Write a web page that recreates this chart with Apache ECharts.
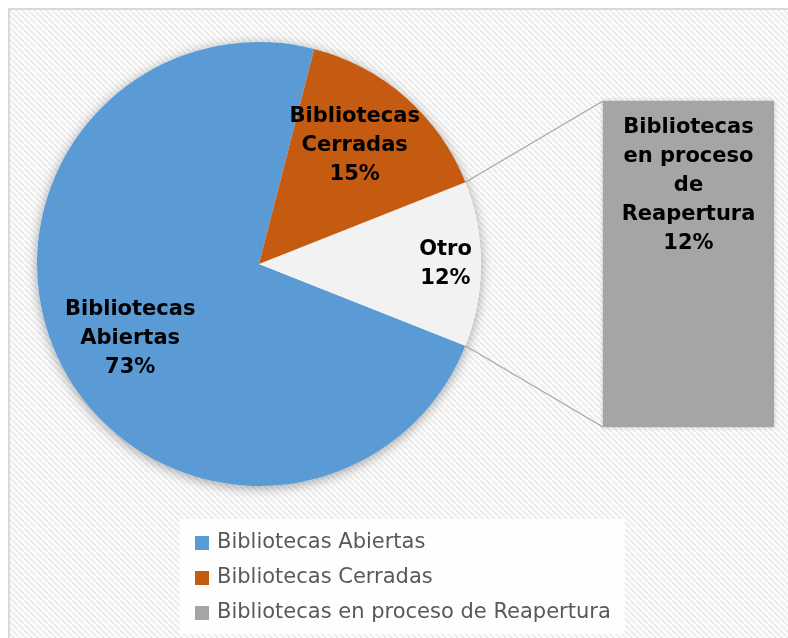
<!DOCTYPE html>
<html>
<head>
<meta charset="utf-8">
<script src="https://cdn.jsdelivr.net/npm/echarts@6/dist/echarts.min.js"></script>
<style>
  html, body { margin: 0; padding: 0; background: #fff; }
  #chart { width: 788px; height: 638px; }
</style>
</head>
<body>
<div id="chart"></div>
<script>
// datos
var pieNames = ['Bibliotecas Abiertas', 'Otro', 'Bibliotecas Cerradas'];
var pieValues = [73, 12, 15];
var pieLabels = ['Bibliotecas\nAbiertas', 'Otro', 'Bibliotecas\nCerradas'];
var barName = 'Bibliotecas en proceso de Reapertura';
var barCategories = ['Reapertura'];
var barValues = [12];
var barLabel = 'Bibliotecas\nen proceso\nde\nReapertura';
var legendNames = ['Bibliotecas Abiertas', 'Bibliotecas Cerradas', 'Bibliotecas en proceso de Reapertura'];

// colores y geometria
var colors = ['#5b9bd5', '#f2f2f2', '#c55a11'];
var barColor = '#a5a5a5';
var cx = 259, cy = 264, R = 222;
var barBox = { left: 603, top: 101, width: 171, height: 326 };
// posicion de etiquetas: fraccion del radio y angulo
var labelSpot = [{ f: 0.67, a: 210 }, { f: 0.84, a: 0 }, { f: 0.685, a: 51 }];

var total = pieValues.reduce(function (a, b) { return a + b; }, 0);
// Otro centrado a la derecha
var startAngle = (pieValues[1] / 2 + pieValues[2]) / total * 360;
var halfOtro = pieValues[1] / 2 / total * 360 * Math.PI / 180;

// fondo rayado
var tile = document.createElement('canvas');
tile.width = 6; tile.height = 6;
var tc = tile.getContext('2d');
tc.fillStyle = '#ffffff';
tc.fillRect(0, 0, 6, 6);
tc.strokeStyle = '#ededed';
tc.lineWidth = 2.5;
[-6, 0, 6].forEach(function (k) {
  tc.beginPath();
  tc.moveTo(k, 0);
  tc.lineTo(k + 6, 6);
  tc.stroke();
});

var p1 = [cx + R * Math.cos(halfOtro), cy - R * Math.sin(halfOtro)];
var p2 = [cx + R * Math.cos(halfOtro), cy + R * Math.sin(halfOtro)];

var chart = echarts.init(document.getElementById('chart'));
chart.setOption({
  animation: false,
  backgroundColor: '#ffffff',
  textStyle: { fontFamily: 'DejaVu Sans' },
  graphic: [
    {
      type: 'rect', z: -10, silent: true,
      shape: { x: 9, y: 9, width: 900, height: 800 },
      style: { fill: { image: tile, repeat: 'repeat' }, stroke: '#d9d9d9', lineWidth: 2 }
    },
    {
      type: 'line', z: 1, silent: true,
      shape: { x1: p1[0], y1: p1[1], x2: barBox.left, y2: barBox.top },
      style: { stroke: '#a6a6a6', lineWidth: 1.2 }
    },
    {
      type: 'line', z: 1, silent: true,
      shape: { x1: p2[0], y1: p2[1], x2: barBox.left, y2: barBox.top + barBox.height },
      style: { stroke: '#a6a6a6', lineWidth: 1.2 }
    }
  ],
  legend: {
    data: legendNames,
    orient: 'vertical',
    left: 180, top: 519,
    padding: [12, 14, 9, 15],
    backgroundColor: 'rgba(255,255,255,0.85)',
    icon: 'rect',
    itemWidth: 14, itemHeight: 14, itemGap: 11,
    selectedMode: false,
    textStyle: { fontSize: 21, lineHeight: 24, color: '#595959', fontFamily: 'DejaVu Sans', padding: [0, 0, 0, 3] }
  },
  grid: { left: barBox.left, top: barBox.top, width: barBox.width, height: barBox.height },
  xAxis: { type: 'category', data: barCategories, show: false },
  yAxis: { type: 'value', min: 0, max: barValues[0], show: false },
  series: [
    {
      // sombra del pastel
      type: 'pie', name: 'sombra', silent: true, z: 0,
      center: [cx, cy], radius: R,
      label: { show: false },
      itemStyle: { color: '#ffffff', shadowBlur: 12, shadowOffsetY: 2, shadowColor: 'rgba(0,0,0,0.35)' },
      data: [{ name: 'sombra', value: 1 }]
    },
    {
      type: 'pie', z: 2,
      center: [cx, cy], radius: R,
      startAngle: startAngle, clockwise: false,
      data: pieNames.map(function (n, i) {
        return { name: n, value: pieValues[i], itemStyle: { color: colors[i] } };
      }),
      itemStyle: { borderWidth: 0 },
      label: {
        show: true, position: 'inside',
        formatter: function (p) { return pieLabels[p.dataIndex] + '\n' + p.value + '%'; },
        color: '#000', fontSize: 21, fontWeight: 'bold', lineHeight: 29, align: 'center',
        fontFamily: 'DejaVu Sans'
      },
      labelLayout: function (p) {
        var s = labelSpot[p.dataIndex];
        var a = s.a * Math.PI / 180;
        return { x: cx + s.f * R * Math.cos(a), y: cy - s.f * R * Math.sin(a), align: 'center', verticalAlign: 'middle' };
      },
      labelLine: { show: false }
    },
    {
      type: 'bar', name: barName, z: 2,
      data: barValues,
      barWidth: '100%',
      itemStyle: { color: barColor, shadowBlur: 4, shadowColor: 'rgba(0,0,0,0.25)' },
      label: {
        show: true, position: 'insideTop', distance: 12,
        formatter: function (p) { return barLabel + '\n' + p.value + '%'; },
        color: '#000', fontSize: 21, fontWeight: 'bold', lineHeight: 29, align: 'center',
        fontFamily: 'DejaVu Sans'
      }
    }
  ]
});
</script>
</body>
</html>
